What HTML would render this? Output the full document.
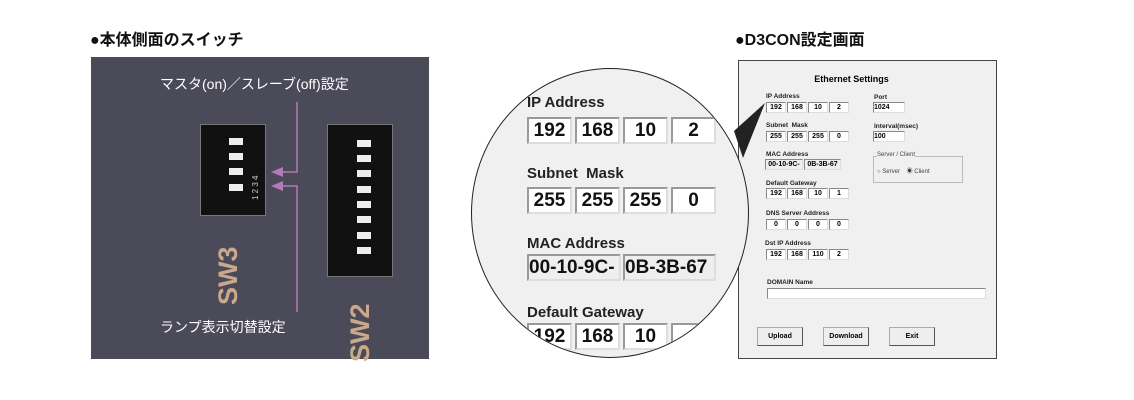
<!DOCTYPE html>
<html><head><meta charset="utf-8"><style>
body{margin:0;width:1134px;height:400px;background:#fff;position:relative;overflow:hidden;font-family:"Liberation Sans","Noto Sans CJK JP",sans-serif}
.a{position:absolute}
.h{font-size:16px;font-weight:bold;color:#111}
.circ{position:absolute;left:471px;top:68px;width:278px;height:290px;border-radius:50%;border:1.5px solid #222;background:#f0f0f0;overflow:hidden;box-sizing:border-box}
.circ .l{position:absolute;font-weight:bold;font-size:15px;color:#222}
.circ .b{position:absolute;height:27px;background:#fff;border:2px solid #999;border-right-color:#ddd;border-bottom-color:#ddd;box-sizing:border-box;font-weight:bold;font-size:19px;text-align:center;line-height:24px;color:#111}
.w{position:absolute;left:738px;top:60px;width:259px;height:299px;background:#f0f0f0;border:1px solid #444;box-sizing:border-box}
.w .l{position:absolute;font-weight:bold;font-size:6.5px;color:#222}
.w .b{position:absolute;height:11px;background:#fff;border:1px solid #888;border-right-color:#ddd;border-bottom-color:#ddd;box-sizing:border-box;font-weight:bold;font-size:7px;text-align:center;line-height:9px}
.w .btn{position:absolute;top:266px;width:46px;height:19px;border:1px solid #aaa;border-right-color:#555;border-bottom-color:#555;box-sizing:border-box;font-size:7px;font-weight:bold;text-align:center;line-height:17px;background:#eee}
.sw{position:absolute;background:#111;border:1px solid #777}
.key{position:absolute;width:14px;height:7px;background:#eee}
</style></head><body>
<div class="a h" style="left:90px;top:26px">●本体側面のスイッチ</div>
<div class="a h" style="left:735px;top:26px">●D3CON設定画面</div>

<div class="a" style="left:91px;top:57px;width:338px;height:302px;background:#4b4a59"></div>
<div class="a" style="left:160px;top:74px;color:#fff;font-size:14px">マスタ(on)／スレーブ(off)設定</div>
<div class="a" style="left:160px;top:317px;color:#fff;font-size:14px">ランプ表示切替設定</div>
<div class="sw" style="left:200px;top:124px;width:64px;height:90px"></div>
<div class="key" style="left:229px;top:138px"></div>
<div class="key" style="left:229px;top:153px"></div>
<div class="key" style="left:229px;top:168px"></div>
<div class="key" style="left:229px;top:184px"></div>
<div class="a" style="left:248px;top:200px;color:#ccc;font-size:8px;line-height:15px;transform:rotate(-90deg);transform-origin:0 0">1 2 3 4</div>
<div class="sw" style="left:327px;top:124px;width:64px;height:151px"></div>
<div class="key" style="left:357px;top:140px"></div><div class="key" style="left:357px;top:155px"></div><div class="key" style="left:357px;top:170px"></div><div class="key" style="left:357px;top:186px"></div><div class="key" style="left:357px;top:201px"></div><div class="key" style="left:357px;top:216px"></div><div class="key" style="left:357px;top:232px"></div><div class="key" style="left:357px;top:247px"></div>
<div class="a" style="left:213px;top:305px;color:#c9a88c;font-size:27px;font-weight:900;transform:rotate(-90deg);transform-origin:0 0">SW3</div>
<div class="a" style="left:345px;top:362px;color:#c9a88c;font-size:27px;font-weight:900;transform:rotate(-90deg);transform-origin:0 0">SW2</div>
<svg class="a" style="left:0;top:0" width="440" height="400">
<g stroke="#b27bb8" stroke-width="1.5" fill="none"><path d="M297 102V172H275M297 312V186H275"/></g>
<path d="M271 172l12-5v10zM271 186l12-5v10z" fill="#b27bb8"/>
</svg>

<div class="w">
<div class="a" style="left:0;width:225px;text-align:center;top:13px;font-size:9px;font-weight:bold">Ethernet Settings</div>
<div class="l" style="left:27px;top:32px">IP Address</div>
<div class="b" style="left:27px;top:41px;width:20px">192</div><div class="b" style="left:48px;top:41px;width:20px">168</div><div class="b" style="left:69px;top:41px;width:20px">10</div><div class="b" style="left:90px;top:41px;width:20px">2</div>
<div class="l" style="left:27px;top:61px">Subnet &nbsp;Mask</div>
<div class="b" style="left:27px;top:70px;width:20px">255</div><div class="b" style="left:48px;top:70px;width:20px">255</div><div class="b" style="left:69px;top:70px;width:20px">255</div><div class="b" style="left:90px;top:70px;width:20px">0</div>
<div class="l" style="left:27px;top:90px">MAC Address</div>
<div class="b" style="left:26px;top:98px;width:38px;background:#eee">00-10-9C-</div><div class="b" style="left:65px;top:98px;width:37px;background:#eee">0B-3B-67</div>
<div class="l" style="left:27px;top:119px">Default Gateway</div>
<div class="b" style="left:27px;top:127px;width:20px">192</div><div class="b" style="left:48px;top:127px;width:20px">168</div><div class="b" style="left:69px;top:127px;width:20px">10</div><div class="b" style="left:90px;top:127px;width:20px">1</div>
<div class="l" style="left:27px;top:149px">DNS Server Address</div>
<div class="b" style="left:27px;top:158px;width:20px">0</div><div class="b" style="left:48px;top:158px;width:20px">0</div><div class="b" style="left:69px;top:158px;width:20px">0</div><div class="b" style="left:90px;top:158px;width:20px">0</div>
<div class="l" style="left:26px;top:179px">Dst IP Address</div>
<div class="b" style="left:27px;top:188px;width:20px">192</div><div class="b" style="left:48px;top:188px;width:20px">168</div><div class="b" style="left:69px;top:188px;width:20px">110</div><div class="b" style="left:90px;top:188px;width:20px">2</div>
<div class="l" style="left:28px;top:218px">DOMAIN Name</div>
<div class="b" style="left:28px;top:227px;width:219px;height:11px"></div>
<div class="l" style="left:135px;top:33px">Port</div>
<div class="b" style="left:134px;top:41px;width:32px;text-align:left">1024</div>
<div class="l" style="left:135px;top:62px">Interval(msec)</div>
<div class="b" style="left:134px;top:70px;width:32px;text-align:left">100</div>
<div class="a" style="left:134px;top:95px;width:88px;height:25px;border:1px solid #bbb"></div>
<div class="a" style="left:138px;top:91px;font-size:6px;color:#444;background:#f0f0f0">Server / Client</div>
<div class="a" style="left:138px;top:105px;font-size:6px;color:#444">○ Server &nbsp;&nbsp; ◉ Client</div>
<div class="btn" style="left:18px">Upload</div>
<div class="btn" style="left:84px">Download</div>
<div class="btn" style="left:150px">Exit</div>
</div>

<div class="circ">
<div class="l" style="left:55px;top:25px">IP Address</div>
<div class="b" style="left:55px;top:48px;width:45px">192</div><div class="b" style="left:103px;top:48px;width:45px">168</div><div class="b" style="left:151px;top:48px;width:45px">10</div><div class="b" style="left:199px;top:48px;width:45px">2</div>
<div class="l" style="left:55px;top:96px">Subnet &nbsp;Mask</div>
<div class="b" style="left:55px;top:118px;width:45px">255</div><div class="b" style="left:103px;top:118px;width:45px">255</div><div class="b" style="left:151px;top:118px;width:45px">255</div><div class="b" style="left:199px;top:118px;width:45px">0</div>
<div class="l" style="left:55px;top:166px">MAC Address</div>
<div class="b" style="left:55px;top:185px;width:94px;background:#eee;text-align:left">00-10-9C-</div><div class="b" style="left:151px;top:185px;width:93px;background:#eee;text-align:left">0B-3B-67</div>
<div class="l" style="left:55px;top:235px">Default Gateway</div>
<div class="b" style="left:55px;top:254px;width:45px">192</div><div class="b" style="left:103px;top:254px;width:45px">168</div><div class="b" style="left:151px;top:254px;width:45px">10</div><div class="b" style="left:199px;top:254px;width:45px">1</div>
</div>
<svg class="a" style="left:0;top:0" width="1134" height="400"><path d="M734 131L765 103L743 158z" fill="#222"/></svg>
</body></html>
